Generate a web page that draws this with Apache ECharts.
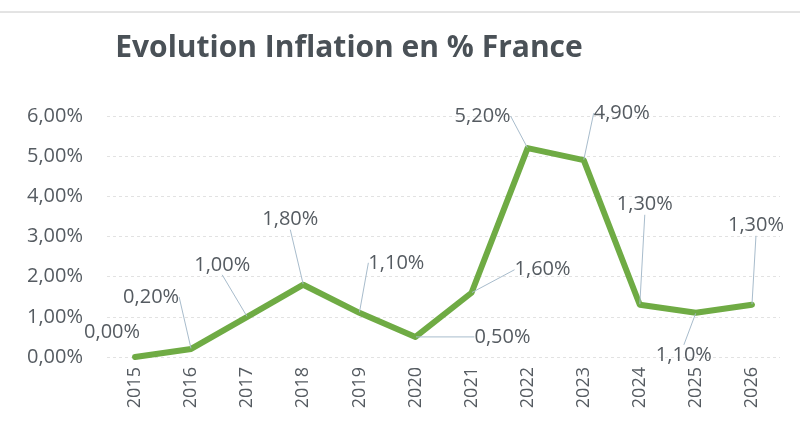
<!DOCTYPE html>
<html>
<head>
<meta charset="utf-8">
<script src="https://cdn.jsdelivr.net/npm/echarts@6/dist/echarts.min.js"></script>
<style>
html,body{margin:0;padding:0;background:#fff;}
#chart{width:800px;height:434px;}
</style>
</head>
<body>
<div id="chart"></div>
<script>
const years = ['2015','2016','2017','2018','2019','2020','2021','2022','2023','2024','2025','2026'];
const inflation = [0.0, 0.2, 1.0, 1.8, 1.1, 0.5, 1.6, 5.2, 4.9, 1.3, 1.1, 1.3];
const yTicks = [0, 1, 2, 3, 4, 5, 6];

// label offsets (label centre relative to point), style only
const labelOffsets = [[-23,-25],[-40,-52],[-25,-52],[-13,-65],[37,-50],[87,0],[71,-23],[-45,-32],[38,-47],[5,-100],[-12,42],[4,-79]];

const fmt = v => v.toFixed(2).replace('.', ',') + '%';
const font = '"Open Sans", sans-serif';
const textColor = '#555b61';

const chart = echarts.init(document.getElementById('chart'), null, {renderer: 'canvas'});
chart.setOption({
  backgroundColor: '#ffffff',
  animation: false,
  title: {
    text: 'Evolution Inflation en % France',
    left: 344, top: 28, textAlign: 'center',
    textStyle: {fontFamily: font, fontSize: 30, fontWeight: 'bold', color: '#4a5157'}
  },
  graphic: [{
    type: 'line', shape: {x1: 0, y1: 12, x2: 800, y2: 12},
    style: {stroke: '#c8c8c8', lineWidth: 1}
  }],
  grid: {left: 107, right: 20, top: 116, bottom: 77},
  xAxis: {
    type: 'category', data: years, boundaryGap: true,
    axisLine: {show: false}, axisTick: {show: false},
    axisLabel: {rotate: 90, margin: 10, fontFamily: font, fontSize: 18, color: textColor}
  },
  yAxis: {
    type: 'value', min: yTicks[0], max: yTicks[yTicks.length - 1], interval: 1,
    axisLine: {show: false}, axisTick: {show: false},
    splitLine: {show: true, lineStyle: {color: '#e2e2e2', type: [3, 3], width: 1}},
    axisLabel: {margin: 24, fontFamily: font, fontSize: 20, color: textColor,
      formatter: v => fmt(v)}
  },
  series: [{
    type: 'line',
    data: inflation.map((v, i) => ({value: v, labelLine: {show: i !== 0}})),
    symbol: 'circle', symbolSize: 1, showSymbol: true,
    itemStyle: {color: '#6fab44'},
    lineStyle: {color: '#6fab44', width: 6, cap: 'round', join: 'round'},
    label: {
      show: true, position: 'inside',
      fontFamily: font, fontSize: 20, color: textColor,
      formatter: p => fmt(p.value)
    },
    labelLine: {show: true, lineStyle: {color: '#a8bccc', width: 1}},
    labelLayout: p => ({dx: labelOffsets[p.dataIndex][0], dy: labelOffsets[p.dataIndex][1]})
  }]
});
</script>
</body>
</html>
